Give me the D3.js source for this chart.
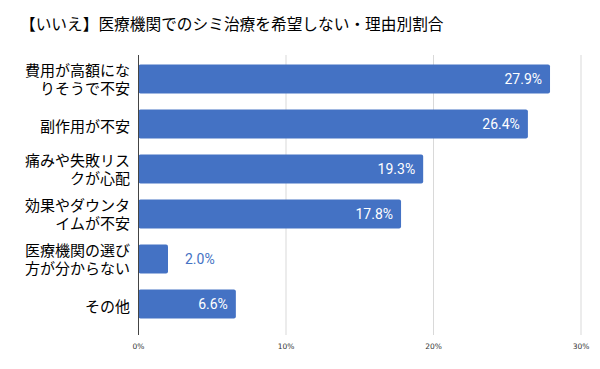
<!DOCTYPE html>
<html><head><meta charset="utf-8">
<script src="https://cdn.jsdelivr.net/npm/d3@7"></script>
<style>body{margin:0;background:#fff}svg{display:block}</style>
</head><body>
<svg id="c" width="600" height="369"></svg>
<script>
const title = "【いいえ】医療機関でのシミ治療を希望しない・理由別割合";
const categories = [
  ["費用が高額にな","りそうで不安"],
  ["副作用が不安"],
  ["痛みや失敗リス","クが心配"],
  ["効果やダウンタ","イムが不安"],
  ["医療機関の選び","方が分からない"],
  ["その他"]
];
const values = [27.9, 26.4, 19.3, 17.8, 2.0, 6.6];
const ticks = [0, 10, 20, 30];
const tickLabels = ["0%", "10%", "20%", "30%"];

const svg = d3.select("#c");
const x = d3.scaleLinear().domain([0, 30]).range([138.5, 581]);
const y = d3.scaleBand().domain(d3.range(values.length)).range([56.5, 326.5]).paddingInner(0.356).paddingOuter(0.178);
const jp = "'Noto Sans CJK JP', 'Noto Sans', sans-serif";
const jpTight = "'Liberation Sans', 'Noto Sans CJK JP', sans-serif";

svg.append("text").attr("x", 20).attr("y", 30).attr("font-family", jp).attr("font-size", 15.7).attr("fill", "#000").text(title);

// gridlines
svg.append("g").selectAll("line").data(ticks.slice(1)).join("line")
  .attr("x1", d => x(d)).attr("x2", d => x(d)).attr("y1", 55).attr("y2", 335)
  .attr("stroke", "#d9d9d9").attr("stroke-width", 1);

// bars
svg.append("g").selectAll("rect").data(values).join("rect")
  .attr("x", x(0)).attr("y", (d, i) => y(i)).attr("width", d => x(d) - x(0)).attr("height", y.bandwidth())
  .attr("rx", 2).attr("fill", "#4472c4");

// axis line at 0
svg.append("line").attr("x1", x(0)).attr("x2", x(0)).attr("y1", 55).attr("y2", 335).attr("stroke", "#444").attr("stroke-width", 1);

// value labels
svg.append("g").selectAll("text").data(values).join("text")
  .attr("x", d => d < 5 ? x(d) + 17 : x(d) - 8)
  .attr("y", (d, i) => y(i) + y.bandwidth() / 2 + 5)
  .attr("text-anchor", d => d < 5 ? "start" : "end")
  .attr("font-family", "Roboto, sans-serif").attr("font-size", 14)
  .attr("fill", d => d < 5 ? "#4472c4" : "#fff")
  .text(d => d.toFixed(1) + "%");

// category labels (one text per line)
const lineData = [];
categories.forEach((lines, i) => lines.forEach((l, j) => lineData.push({ i, j, n: lines.length, l })));
svg.append("g").selectAll("text").data(lineData).join("text")
  .attr("text-anchor", "end").attr("font-family", jpTight).attr("font-size", 15).attr("fill", "#000")
  .attr("x", 130)
  .attr("y", d => y(d.i) + y.bandwidth() / 2 + 5.5 + (d.n === 1 ? 2 : 0) + (d.j - (d.n - 1) / 2) * 18)
  .text(d => d.l);

// tick labels
svg.append("g").selectAll("text").data(ticks).join("text")
  .attr("x", d => x(d)).attr("y", 349).attr("text-anchor", "middle")
  .attr("font-family", "'DejaVu Sans', sans-serif").attr("font-size", 7.5).attr("fill", "#333")
  .text((d, i) => tickLabels[i]);
</script>
</body></html>
